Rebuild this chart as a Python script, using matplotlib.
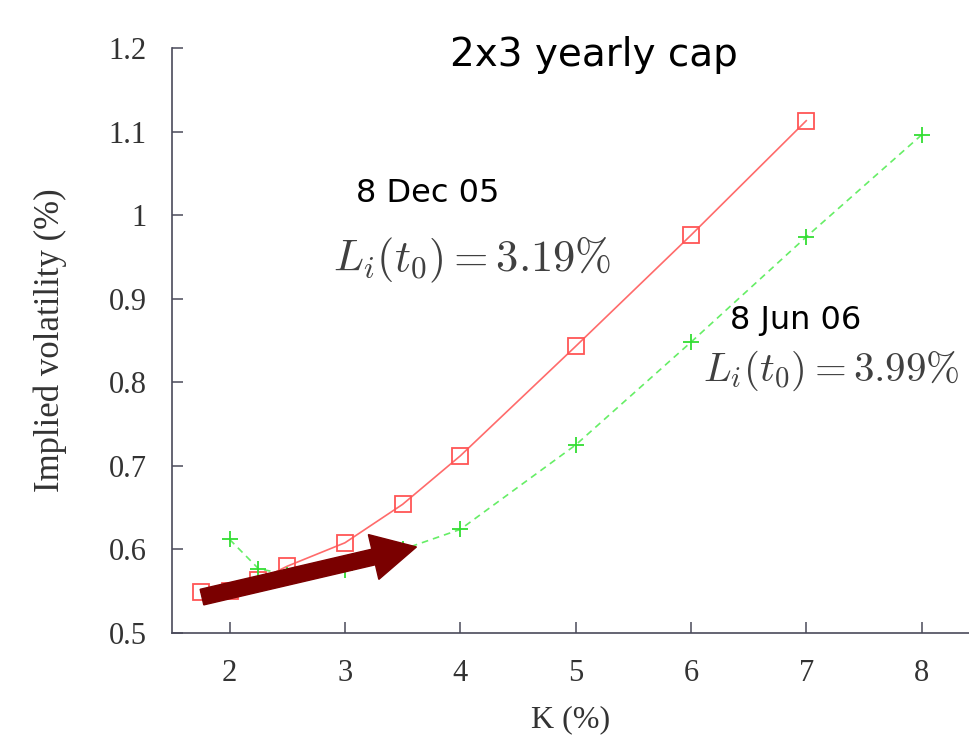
import matplotlib
matplotlib.use("Agg")
import matplotlib.pyplot as plt
from matplotlib.patches import FancyArrow

plt.rcParams['mathtext.fontset'] = 'cm'

# Strikes (%) and implied volatilities (%) for the two dates
strike_dec = [1.75, 2.0, 2.25, 2.5, 3.0, 3.5, 4.0, 5.0, 6.0, 7.0]
vol_dec = [0.549, 0.550, 0.563, 0.580, 0.608, 0.654, 0.712, 0.843, 0.976, 1.113]

strike_jun = [2.0, 2.25, 2.5, 3.0, 3.5, 4.0, 5.0, 6.0, 7.0, 8.0]
vol_jun = [0.612, 0.577, 0.570, 0.575, 0.600, 0.624, 0.725, 0.848, 0.974, 1.096]

x_ticks = [2, 3, 4, 5, 6, 7, 8]
y_ticks = [0.5, 0.6, 0.7, 0.8, 0.9, 1.0, 1.1, 1.2]
y_tick_labels = ["0.5", "0.6", "0.7", "0.8", "0.9", "1", "1.1", "1.2"]

# arrow from the Dec 05 curve towards the Jun 06 curve
arrow_start = (1.76, 0.543)
arrow_end = (3.62, 0.603)

fig = plt.figure(figsize=(9.7, 7.41), dpi=100)
ax = fig.add_axes([0.1773, 0.1457, 0.8227, 0.7895])

ax.plot(strike_dec, vol_dec, color="#ff6b6b", lw=1.2, marker="s", ms=12,
        mfc="none", mec="#ff5555", mew=1.3, zorder=3)
ax.plot(strike_jun, vol_jun, color="#66ee66", lw=1.2, ls=(0, (4, 3)), marker="+",
        ms=12, mec="#33dd33", mew=1.3, zorder=3)

ax.set_xlim(1.5, 8.42)
ax.set_ylim(0.5, 1.2)

for side in ("top", "right"):
    ax.spines[side].set_visible(False)
for side in ("left", "bottom"):
    ax.spines[side].set_color("#4a4a5a")
    ax.spines[side].set_linewidth(1.2)

ax.set_xticks(x_ticks)
ax.set_xticklabels([str(t) for t in x_ticks])
ax.set_yticks(y_ticks)
ax.set_yticklabels(y_tick_labels)
ax.tick_params(direction="in", length=8, width=1.1, color="#4a4a5a",
               labelsize=22, labelcolor="#333333")
ax.tick_params(axis="x", pad=19)
ax.tick_params(axis="y", pad=18)
for lab in ax.get_xticklabels() + ax.get_yticklabels():
    lab.set_family("Liberation Serif")

ax.set_xlabel("K (%)", family="Liberation Serif", fontsize=23, color="#333333",
              labelpad=12)
ax.set_ylabel("Implied volatility (%)", family="Liberation Serif", fontsize=25,
              color="#333333", labelpad=30)

# thick arrow drawn in pixel space so the head keeps its shape
p0 = ax.transData.transform(arrow_start)
p1 = ax.transData.transform(arrow_end)
arr = FancyArrow(p0[0], p0[1], p1[0] - p0[0], p1[1] - p0[1], width=16,
                 head_width=46, head_length=44, length_includes_head=True,
                 color="#7a0000", transform=None, zorder=5)
fig.patches.append(arr)

fig.text(0.612, 0.926, "2x3 yearly cap", fontsize=28, family="DejaVu Sans",
         ha="center", va="center", color="black")
fig.text(0.441, 0.739, "8 Dec 05", fontsize=23, family="DejaVu Sans",
         ha="center", va="center", color="black")
fig.text(0.487, 0.649, r"$L_i(t_0) = 3.19\%$", fontsize=32,
         ha="center", va="center", color="#404040")
fig.text(0.820, 0.568, "8 Jun 06", fontsize=23, family="DejaVu Sans",
         ha="center", va="center", color="black")
fig.text(0.857, 0.500, r"$L_i(t_0) = 3.99\%$", fontsize=29.5,
         ha="center", va="center", color="#404040")

fig.savefig("out.png", dpi=100)
